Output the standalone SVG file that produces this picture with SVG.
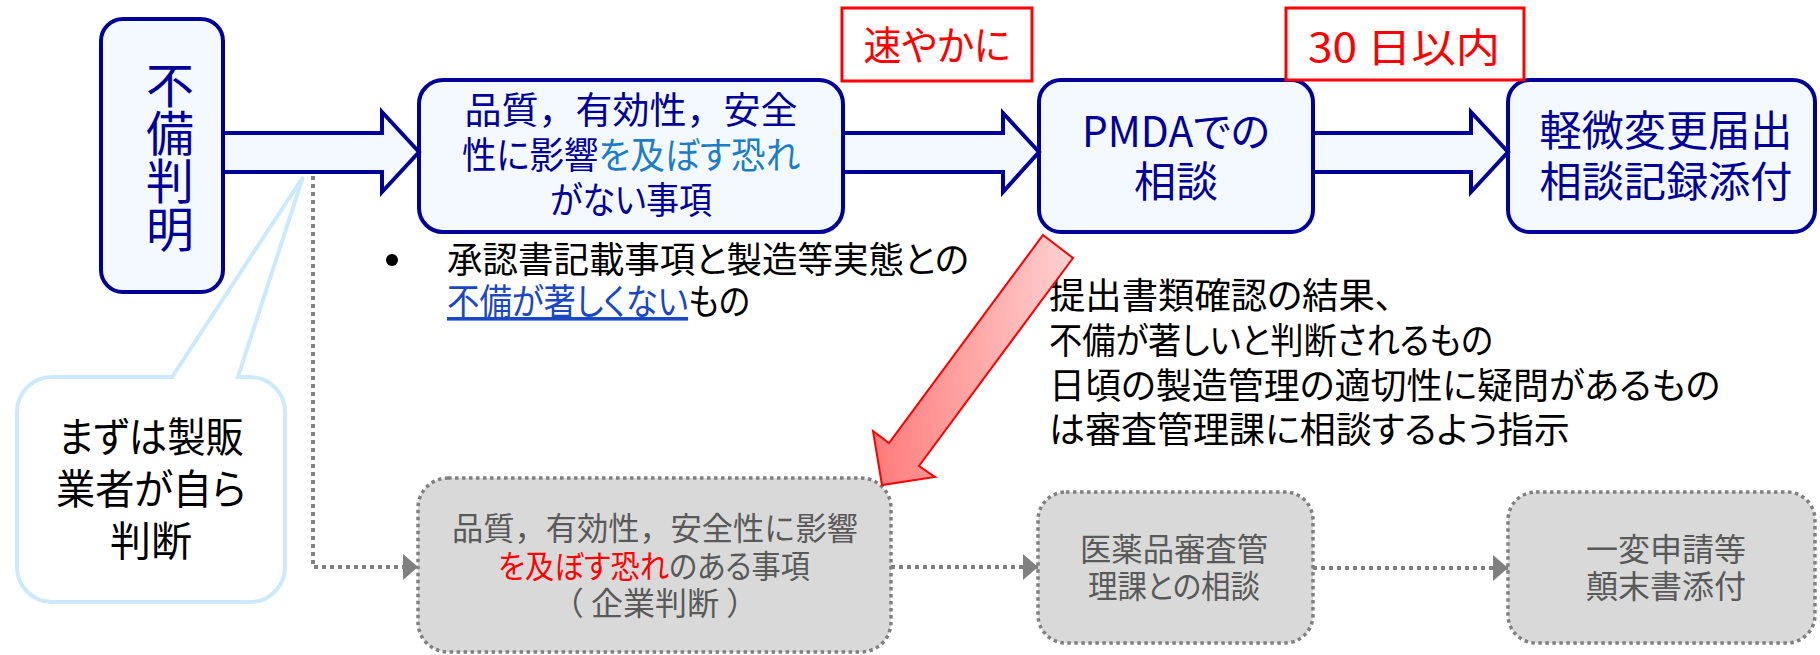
<svg xmlns="http://www.w3.org/2000/svg" width="1820" height="655" viewBox="0 0 1820 655">
<style>
text{font-family:"Noto Sans CJK JP","Noto Sans",sans-serif;font-feature-settings:"palt" 1;}
.np{font-feature-settings:normal;}
.nb{fill:#f4f9ff;stroke:#000099;stroke-width:4;}
.nt{fill:#000099;}
.gb{fill:#d9d9d9;stroke:#808080;stroke-width:3.5;stroke-dasharray:3.5 3.5;}
.gt{fill:#595959;font-size:32px;text-anchor:middle;}
.blk{fill:#f4f9ff;stroke:#000099;stroke-width:4;stroke-linejoin:miter;}
.dot{fill:none;stroke:#808080;stroke-width:4;stroke-dasharray:4 4;}
.rb{fill:#ffffff;stroke:#ff0000;stroke-width:3;}
.rt{fill:#ff0000;font-size:40px;text-anchor:middle;}
.bk{fill:#000000;font-size:36px;}
</style>
<defs>
<marker id="ga" viewBox="0 0 15 26" refX="15" refY="13" markerWidth="15" markerHeight="26" markerUnits="userSpaceOnUse" orient="auto">
<path d="M0,0 L15,13 L0,26 Z" fill="#808080"/>
</marker>
<linearGradient id="rg" x1="0" y1="0" x2="1" y2="0">
<stop offset="0" stop-color="#ff7a7a"/>
<stop offset="1" stop-color="#ffd2d2"/>
</linearGradient>
</defs>

<g id="node-fubi">
<rect class="nb" x="101" y="19" width="122" height="273" rx="22"/>
<text class="nt" font-size="48" writing-mode="vertical-rl" x="170" y="61">不備判明</text>
</g>

<g id="node-minor">
<rect class="nb" x="419" y="80" width="424" height="152" rx="24"/>
<text class="nt" font-size="37" text-anchor="middle"><tspan class="np" x="631" y="124" textLength="333" lengthAdjust="spacingAndGlyphs">品質，有効性，安全</tspan><tspan x="631" y="169" textLength="338" lengthAdjust="spacingAndGlyphs">性に影響<tspan fill="#1b7dc4">を及ぼす恐れ</tspan></tspan><tspan x="631" y="214" textLength="162" lengthAdjust="spacingAndGlyphs">がない事項</tspan></text>
</g>

<g id="node-pmda">
<rect class="nb" x="1039" y="80" width="274" height="152" rx="22"/>
<text class="nt" font-size="42" text-anchor="middle"><tspan x="1176" y="147" textLength="188" lengthAdjust="spacingAndGlyphs">PMDAでの</tspan><tspan x="1176" y="197" textLength="84" lengthAdjust="spacingAndGlyphs">相談</tspan></text>
</g>

<g id="node-report">
<rect class="nb" x="1508" y="80" width="307" height="152" rx="22"/>
<text class="nt" font-size="42" text-anchor="middle"><tspan x="1666" y="146" textLength="253" lengthAdjust="spacingAndGlyphs">軽微変更届出</tspan><tspan x="1666" y="197" textLength="253" lengthAdjust="spacingAndGlyphs">相談記録添付</tspan></text>
</g>

<g id="label-soon">
<rect class="rb" x="842" y="8" width="190" height="73"/>
<text class="rt" x="937" y="60" textLength="147" lengthAdjust="spacingAndGlyphs">速やかに</text>
</g>

<g id="label-30days">
<rect class="rb" x="1286" y="8" width="238" height="72"/>
<text class="rt" x="1404" y="62" textLength="192" lengthAdjust="spacingAndGlyphs">30 日以内</text>
</g>

<g id="note-bullet">
<circle cx="392" cy="260" r="6" fill="#000000"/>
<text class="bk"><tspan x="447" y="273" textLength="522" lengthAdjust="spacingAndGlyphs">承認書記載事項と製造等実態との</tspan><tspan x="447" y="315" textLength="303" lengthAdjust="spacingAndGlyphs"><tspan fill="#1a47c4" text-decoration="underline">不備が著しくない</tspan>もの</tspan></text>
</g>

<g id="note-instruction">
<text class="bk"><tspan x="1049" y="309" textLength="344" lengthAdjust="spacingAndGlyphs">提出書類確認の結果、</tspan><tspan x="1049" y="354" textLength="444" lengthAdjust="spacingAndGlyphs">不備が著しいと判断されるもの</tspan><tspan x="1049" y="399">日頃の製造管理の適切性に疑問があるもの</tspan><tspan x="1049" y="443">は審査管理課に相談するよう指示</tspan></text>
</g>

<g id="callout">
<path d="M52,377 L172,377 L303,177 L238,377 L250,377 A35,35 0 0 1 285,412 L285,567 A35,35 0 0 1 250,602 L52,602 A35,35 0 0 1 17,567 L17,412 A35,35 0 0 1 52,377 Z" fill="#ffffff" stroke="#cdeafc" stroke-width="4" stroke-linejoin="miter"/>
<text fill="#000000" font-size="41" text-anchor="middle"><tspan x="151" y="452" textLength="186" lengthAdjust="spacingAndGlyphs">まずは製販</tspan><tspan x="151" y="504" textLength="190" lengthAdjust="spacingAndGlyphs">業者が自ら</tspan><tspan x="151" y="556" textLength="82" lengthAdjust="spacingAndGlyphs">判断</tspan></text>
</g>

<g id="node-risk">
<rect class="gb" x="418" y="478" width="473" height="174" rx="30"/>
<text class="gt"><tspan class="np" x="655" y="540" textLength="406" lengthAdjust="spacingAndGlyphs">品質，有効性，安全性に影響</tspan><tspan x="654" y="578" textLength="312" lengthAdjust="spacingAndGlyphs"><tspan fill="#ff0000">を及ぼす恐れ</tspan>のある事項</tspan><tspan class="np" x="655" y="615">（ 企業判断 ）</tspan></text>
</g>

<g id="node-review">
<rect class="gb" x="1038" y="492" width="275" height="151" rx="28"/>
<text class="gt"><tspan x="1174" y="561" textLength="188" lengthAdjust="spacingAndGlyphs">医薬品審査管</tspan><tspan x="1174" y="598" textLength="172" lengthAdjust="spacingAndGlyphs">理課との相談</tspan></text>
</g>

<g id="node-partial">
<rect class="gb" x="1508" y="492" width="307" height="151" rx="28"/>
<text class="gt"><tspan x="1666" y="561" textLength="160" lengthAdjust="spacingAndGlyphs">一変申請等</tspan><tspan x="1666" y="598" textLength="160" lengthAdjust="spacingAndGlyphs">顛末書添付</tspan></text>
</g>

<g id="connectors">
<polygon class="blk" points="223,133 382,133 382,112 419,152 382,192 382,172 223,172"/>
<polygon class="blk" points="843,133 1003,133 1003,113 1039,152 1003,192 1003,172 843,172"/>
<polygon class="blk" points="1313,133 1471,133 1471,112 1508,152 1471,192 1471,172 1313,172"/>
<path class="dot" d="M313,176 V567 H418" marker-end="url(#ga)"/>
<path class="dot" d="M891,567 H1038" marker-end="url(#ga)"/>
<path class="dot" d="M1313,568 H1508" marker-end="url(#ga)"/>
<polygon points="1043,235 1073,258 919,466 935,477 882,485 873,431 889,443" fill="url(#rg)" stroke="#ff0000" stroke-width="2" stroke-linejoin="miter"/>
</g>
</svg>
